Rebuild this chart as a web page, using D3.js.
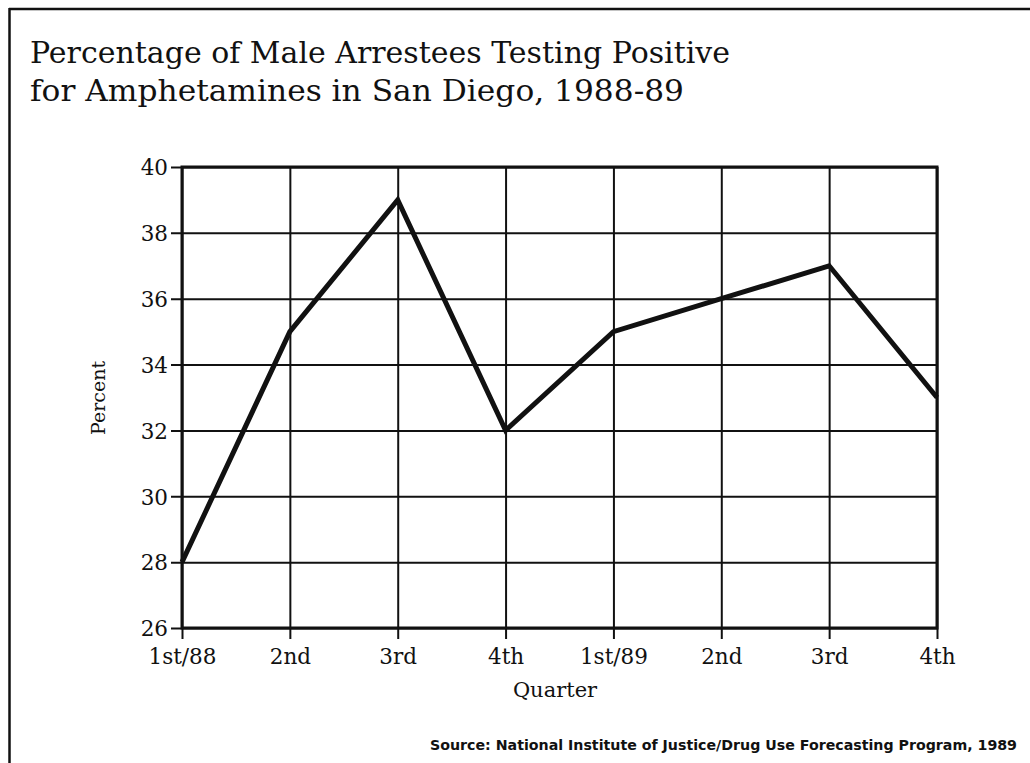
<!DOCTYPE html>
<html>
<head>
<meta charset="utf-8">
<script src="https://cdn.jsdelivr.net/npm/d3@7"></script>
<style>
  html, body { margin: 0; padding: 0; background: #fff; }
  svg { display: block; }
</style>
</head>
<body>
<svg id="chart" width="1030" height="763"></svg>
<script>
const quarters = ["1st/88", "2nd", "3rd", "4th", "1st/89", "2nd ", "3rd ", "4th "];
const quarterLabels = ["1st/88", "2nd", "3rd", "4th", "1st/89", "2nd", "3rd", "4th"];
const percentPositive = [28, 35, 39, 32, 35, 36, 37, 33];
const yTicks = [26, 28, 30, 32, 34, 36, 38, 40];
const titleLines = ["Percentage of Male Arrestees Testing Positive", "for Amphetamines in San Diego, 1988-89"];
const sourceText = "Source: National Institute of Justice/Drug Use Forecasting Program, 1989";

const svg = d3.select("#chart");
const serif = "'DejaVu Serif', serif";

// frame (top and left rule)
svg.append("line").attr("x1", 9).attr("x2", 1030).attr("y1", 9).attr("y2", 9)
  .attr("stroke", "#111").attr("stroke-width", 2.5);
svg.append("line").attr("x1", 9.5).attr("x2", 9.5).attr("y1", 8).attr("y2", 763)
  .attr("stroke", "#111").attr("stroke-width", 2.5);

// title
svg.append("text").attr("x", 30).attr("y", 63).attr("font-family", serif)
  .attr("font-size", 30).attr("fill", "#111")
  .attr("textLength", 700).attr("lengthAdjust", "spacingAndGlyphs").text(titleLines[0]);
svg.append("text").attr("x", 30).attr("y", 101).attr("font-family", serif)
  .attr("font-size", 30).attr("fill", "#111")
  .attr("textLength", 654).attr("lengthAdjust", "spacingAndGlyphs").text(titleLines[1]);

const m = { left: 182, top: 167, right: 937, bottom: 628 };
const w = m.right - m.left, h = m.bottom - m.top;
const g = svg.append("g").attr("transform", `translate(${m.left},${m.top})`);

const x = d3.scalePoint().domain(quarters).range([0, w]);
const y = d3.scaleLinear().domain([26, 40]).range([h, 0]);

// horizontal grid + left ticks
const yAxis = g.append("g").call(
  d3.axisLeft(y).tickValues(yTicks).tickSizeInner(-w).tickSizeOuter(0).tickPadding(16).tickFormat(d3.format("d"))
);
yAxis.select(".domain").remove();
yAxis.selectAll(".tick line").attr("x1", -11).attr("stroke", "#111").attr("stroke-width", 2);
yAxis.selectAll(".tick text").attr("font-family", serif).attr("font-size", 21.5).attr("fill", "#111").attr("x", -14).attr("dy", "0.36em");

// vertical grid + bottom ticks
const xAxis = g.append("g").attr("transform", `translate(0,${h})`).call(
  d3.axisBottom(x).tickSizeInner(-h).tickSizeOuter(0).tickPadding(0)
    .tickFormat((d, i) => quarterLabels[i])
);
xAxis.select(".domain").remove();
xAxis.selectAll(".tick line").attr("y1", 11).attr("stroke", "#111").attr("stroke-width", 2);
xAxis.selectAll(".tick text").attr("font-family", serif).attr("font-size", 21.5).attr("fill", "#111").attr("y", 21).attr("dy", "0.71em");

// heavier frame lines
g.append("rect").attr("x", 0).attr("y", 0).attr("width", w).attr("height", h)
  .attr("fill", "none").attr("stroke", "#111").attr("stroke-width", 3);

// data line
const line = d3.line().x((d, i) => x(quarters[i])).y(d => y(d));
g.append("path").datum(percentPositive).attr("d", line)
  .attr("fill", "none").attr("stroke", "#111").attr("stroke-width", 5)
  .attr("stroke-linejoin", "miter").attr("stroke-linecap", "butt");

// axis titles
svg.append("text").attr("x", 555).attr("y", 697).attr("text-anchor", "middle")
  .attr("font-family", serif).attr("font-size", 21).attr("fill", "#111").text("Quarter");
svg.append("text").attr("transform", "translate(105,398) rotate(-90)").attr("text-anchor", "middle")
  .attr("font-family", serif).attr("font-size", 19).attr("fill", "#111").text("Percent");

// source
svg.append("text").attr("x", 430).attr("y", 750)
  .attr("font-family", "'DejaVu Sans', sans-serif").attr("font-weight", "bold")
  .attr("font-size", 14).attr("fill", "#111")
  .attr("textLength", 587).attr("lengthAdjust", "spacingAndGlyphs").text(sourceText);
</script>
</body>
</html>
